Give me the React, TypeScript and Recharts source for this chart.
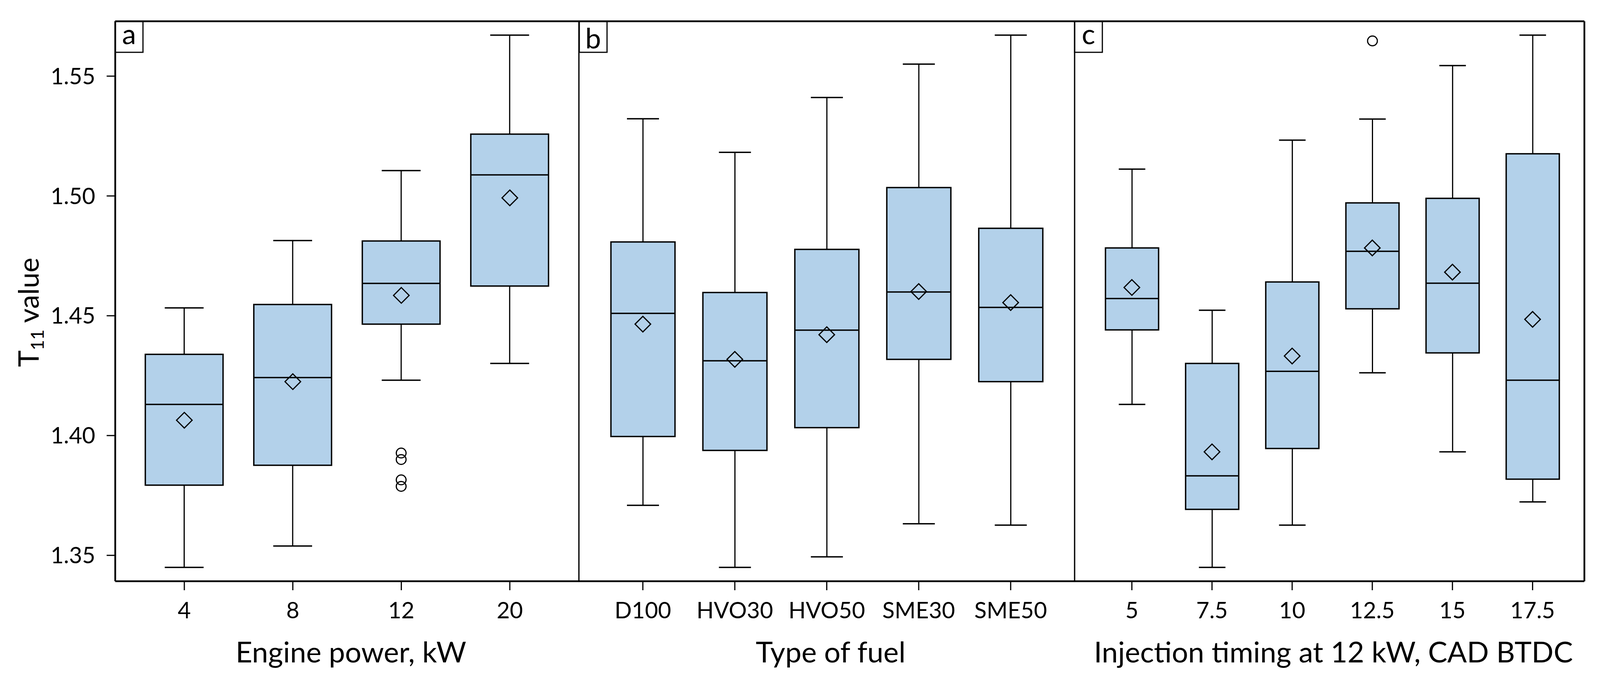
import React from 'react';
import { ComposedChart, Bar, Scatter, XAxis, YAxis, ReferenceLine } from 'recharts';

const FONT = 'Lato, "Open Sans", sans-serif';
const BOX_FILL = '#B3D1EA';

const DOMAIN: [number, number] = [1.3392, 1.5729];
const Y_TICKS = [1.35, 1.4, 1.45, 1.5, 1.55];

// Panel a: Engine power, kW
const powerCats = ['4', '8', '12', '20'];
const powerMin = [1.345, 1.3539, 1.4231, 1.4301];
const powerQ1 = [1.3793, 1.3876, 1.4465, 1.4624];
const powerMed = [1.413, 1.4242, 1.4635, 1.5088];
const powerQ3 = [1.4339, 1.4547, 1.4812, 1.5258];
const powerMax = [1.4533, 1.4814, 1.5106, 1.5671];
const powerMean = [1.4064, 1.4225, 1.4585, 1.4992];
const powerOutliers = [[], [], [1.3927, 1.39, 1.3815, 1.3788], []];

// Panel b: Type of fuel
const fuelCats = ['D100', 'HVO30', 'HVO50', 'SME30', 'SME50'];
const fuelMin = [1.3709, 1.345, 1.3494, 1.3632, 1.3626];
const fuelQ1 = [1.3996, 1.3938, 1.4033, 1.4318, 1.4225];
const fuelMed = [1.451, 1.4312, 1.444, 1.4599, 1.4535];
const fuelQ3 = [1.4808, 1.4597, 1.4777, 1.5035, 1.4865];
const fuelMax = [1.5322, 1.5182, 1.5411, 1.555, 1.5671];
const fuelMean = [1.4465, 1.4318, 1.4421, 1.4601, 1.4555];
const fuelOutliers = [[], [], [], [], []];

// Panel c: Injection timing at 12 kW, CAD BTDC
const timingCats = ['5', '7.5', '10', '12.5', '15', '17.5'];
const timingMin = [1.413, 1.345, 1.3626, 1.4262, 1.3932, 1.3723];
const timingQ1 = [1.4441, 1.3692, 1.3946, 1.4529, 1.4345, 1.3818];
const timingMed = [1.4572, 1.3832, 1.4268, 1.4769, 1.4636, 1.4231];
const timingQ3 = [1.4783, 1.4301, 1.4641, 1.4971, 1.499, 1.5176];
const timingMax = [1.5112, 1.4523, 1.5233, 1.5321, 1.5544, 1.5671];
const timingMean = [1.4618, 1.3932, 1.4332, 1.4783, 1.4682, 1.4485];
const timingOutliers = [[], [], [], [1.5647], [], []];

type Row = {
  cat: string;
  min: number;
  q1: number;
  median: number;
  q3: number;
  max: number;
  mean: number;
  outliers: number[];
};

function buildRows(
  cats: string[],
  mins: number[],
  q1s: number[],
  meds: number[],
  q3s: number[],
  maxs: number[],
  means: number[],
  outs: number[][]
): Row[] {
  return cats.map((c, i) => ({
    cat: c,
    min: mins[i],
    q1: q1s[i],
    median: meds[i],
    q3: q3s[i],
    max: maxs[i],
    mean: means[i],
    outliers: outs[i],
  }));
}

const powerRows = buildRows(powerCats, powerMin, powerQ1, powerMed, powerQ3, powerMax, powerMean, powerOutliers);
const fuelRows = buildRows(fuelCats, fuelMin, fuelQ1, fuelMed, fuelQ3, fuelMax, fuelMean, fuelOutliers);
const timingRows = buildRows(timingCats, timingMin, timingQ1, timingMed, timingQ3, timingMax, timingMean, timingOutliers);

// Box drawn from the range bar [min, max] that Recharts positions via its scales
const BoxShape = (props: any) => {
  const { x, y, width, height, payload } = props;
  if (payload == null || !isFinite(y) || !isFinite(height)) return null;
  const top = Math.min(y, y + height);
  const h = Math.abs(height);
  const { min, q1, median, q3, max, outliers } = payload as Row;
  const ppu = h / (max - min);
  const Y = (v: number) => top + (max - v) * ppu;
  const cx = x + width / 2;
  const cap = width / 2;
  return (
    <g>
      <line x1={cx} x2={cx} y1={Y(max)} y2={Y(q3)} stroke="#000" strokeWidth={3} />
      <line x1={cx} x2={cx} y1={Y(q1)} y2={Y(min)} stroke="#000" strokeWidth={3} />
      <line x1={cx - cap / 2} x2={cx + cap / 2} y1={Y(max)} y2={Y(max)} stroke="#000" strokeWidth={3.5} />
      <line x1={cx - cap / 2} x2={cx + cap / 2} y1={Y(min)} y2={Y(min)} stroke="#000" strokeWidth={3.5} />
      <rect x={x} y={Y(q3)} width={width} height={Y(q1) - Y(q3)} fill={BOX_FILL} stroke="#000" strokeWidth={3.5} />
      <line x1={x} x2={x + width} y1={Y(median)} y2={Y(median)} stroke="#000" strokeWidth={3.5} />
      {outliers.map((o, i) => (
        <circle key={i} cx={cx} cy={Y(o)} r={12.5} fill="none" stroke="#000" strokeWidth={3} />
      ))}
    </g>
  );
};

const Diamond = (props: any) => {
  const { cx, cy } = props;
  if (!isFinite(cx) || !isFinite(cy)) return null;
  const s = 20;
  return (
    <path d={`M${cx},${cy - s} L${cx + s},${cy} L${cx},${cy + s} L${cx - s},${cy} Z`} fill="none" stroke="#000" strokeWidth={3} />
  );
};

const renderYLabel = () => (
  <text x={99} y={800} transform="rotate(-90 99 800)" textAnchor="middle" fontFamily={FONT} fontSize={72} fill="#000">
    <tspan>T</tspan>
    <tspan fontSize={46} dy={13}>11</tspan>
    <tspan dy={-13}> value</tspan>
  </text>
);

const makeXTitle = (title: string) => (props: any) => {
  const vb = props.viewBox || {};
  return (
    <text x={vb.x + vb.width / 2 + 10} y={vb.y + 208} textAnchor="middle" fontFamily={FONT} fontSize={74} fill="#000">
      {title}
    </text>
  );
};

type PanelProps = {
  rows: Row[];
  left: number;
  width: number;
  yWidth: number;
  showY: boolean;
  padding: { left: number; right: number };
  barSize: number;
  title: string;
  rightBorder?: boolean;
  dividerWidth: number;
};

const Panel = ({ rows, left, width, yWidth, showY, padding, barSize, title, rightBorder, dividerWidth }: PanelProps) => (
  <div style={{ position: 'absolute', left, top: 0 }}>
    <ComposedChart width={width} height={1742} data={rows} margin={{ top: 54.5, right: 0, bottom: 0, left: 0 }} barSize={barSize}>
      <XAxis
        dataKey="cat"
        type="category"
        interval={0}
        padding={padding}
        height={253}
        tickSize={23}
        tickMargin={31}
        tickLine={{ stroke: '#000', strokeWidth: 3 }}
        axisLine={{ stroke: '#000', strokeWidth: 4.5 }}
        tick={{ fill: '#000', fontSize: 58, fontFamily: FONT }}
        label={makeXTitle(title)}
      />
      {showY ? (
        <YAxis
          type="number"
          domain={DOMAIN}
          allowDataOverflow
          ticks={Y_TICKS}
          width={yWidth}
          tickFormatter={(v: number) => v.toFixed(2)}
          tickSize={22}
          tickMargin={29}
          tickLine={{ stroke: '#000', strokeWidth: 3 }}
          axisLine={{ stroke: '#000', strokeWidth: 4.5 }}
          tick={{ fill: '#000', fontSize: 58, fontFamily: FONT }}
          label={renderYLabel}
        />
      ) : (
        <YAxis
          type="number"
          domain={DOMAIN}
          allowDataOverflow
          ticks={Y_TICKS}
          width={yWidth}
          tick={false}
          tickLine={false}
          axisLine={{ stroke: '#000', strokeWidth: dividerWidth }}
        />
      )}
      {rightBorder && (
        <YAxis
          yAxisId="right"
          orientation="right"
          type="number"
          domain={DOMAIN}
          allowDataOverflow
          width={10}
          tick={false}
          tickLine={false}
          axisLine={{ stroke: '#000', strokeWidth: 4.5 }}
        />
      )}
      <ReferenceLine y={DOMAIN[1]} stroke="#000" strokeWidth={4.5} ifOverflow="visible" />
      <Bar dataKey={(d: Row) => [d.min, d.max]} shape={BoxShape} isAnimationActive={false} />
      <Scatter dataKey="mean" shape={Diamond} isAnimationActive={false} />
    </ComposedChart>
  </div>
);

const LetterBox = ({ left, letter, baseline }: { left: number; letter: string; baseline: number }) => (
  <svg style={{ position: 'absolute', left, top: 54.5, overflow: 'visible' }} width={71} height={80}>
    <rect x={0} y={0} width={71} height={79} fill="none" stroke="#000" strokeWidth={3} />
    <text x={35.5} y={baseline} textAnchor="middle" fontFamily={FONT} fontSize={72} fill="#000">
      {letter}
    </text>
  </svg>
);

export default function App() {
  return (
    <div style={{ position: 'absolute', left: 0, top: 0, width: 4133, height: 1742, background: '#fff', overflow: 'hidden' }}>
      <Panel rows={powerRows} left={0} width={1482} yWidth={295} showY padding={{ left: 38, right: 38 }} barSize={199} title="Engine power, kW" dividerWidth={4.5} />
      <Panel rows={fuelRows} left={1472} width={1279} yWidth={10} showY={false} padding={{ left: 46, right: 46 }} barSize={164} title="Type of fuel" dividerWidth={3.3} />
      <Panel rows={timingRows} left={2741} width={1325} yWidth={10} showY={false} padding={{ left: 44, right: 30 }} barSize={136} title="Injection timing at 12 kW, CAD BTDC" rightBorder dividerWidth={3.3} />
      <LetterBox left={295} letter="a" baseline={58} />
      <LetterBox left={1482.7} letter="b" baseline={69} />
      <LetterBox left={2750.7} letter="c" baseline={58} />
    </div>
  );
}
